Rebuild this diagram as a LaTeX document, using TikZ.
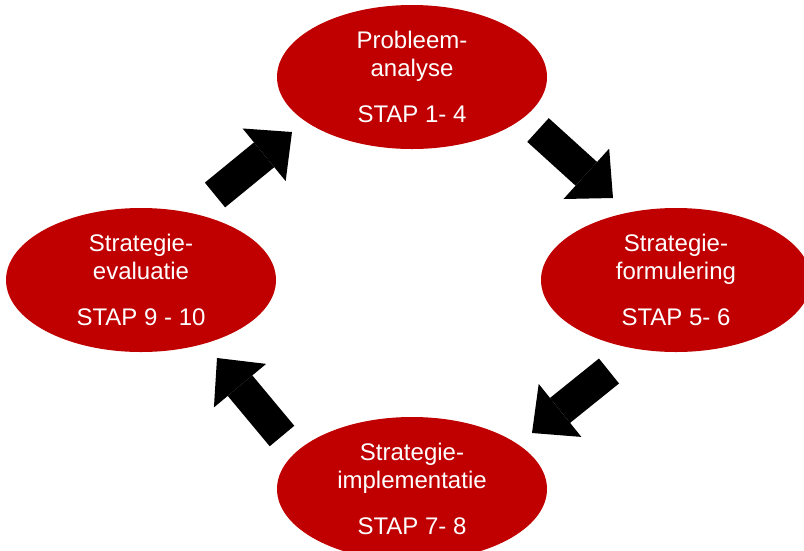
\documentclass[tikz,border=0pt]{standalone}
\usepackage{fontspec}
\setmainfont{Liberation Sans}
\usetikzlibrary{shapes.geometric, arrows.meta}
\definecolor{stapred}{RGB}{192,0,0}

\begin{document}
\begin{tikzpicture}[x=1pt,y=-1pt,
  stap/.style={ellipse,fill=stapred,text=white,minimum width=270pt,minimum height=144pt,inner sep=0pt,align=center,font=\fontsize{24}{28}\selectfont},
  blockarrow/.style={line width=32pt,-{Triangle[width=68pt,length=36pt,line width=0pt]}}]

\useasboundingbox (0,0) rectangle (804,550);

\node[stap] (analyse) at (412,77) {Probleem-\\analyse\\[18pt]STAP 1- 4};
\node[stap] (formulering) at (676,280) {Strategie-\\formulering\\[18pt]STAP 5- 6};
\node[stap] (implementatie) at (412,489) {Strategie-\\implementatie\\[18pt]STAP 7- 8};
\node[stap] (evaluatie) at (141,280) {Strategie-\\evaluatie\\[18pt]STAP 9 - 10};

% ends of the block arrows
\coordinate (ea) at (215,195);
\coordinate (ae) at (292,132);
\coordinate (af) at (538,130);
\coordinate (fa) at (613,198);
\coordinate (fi) at (609,371);
\coordinate (if) at (532,433);
\coordinate (ie) at (282,436);
\coordinate (ei) at (217,358);

% From evaluatie to analyse
\draw[blockarrow] (ea) -- (ae);
% From analyse to formulering
\draw[blockarrow] (af) -- (fa);
% From formulering to implementatie
\draw[blockarrow] (fi) -- (if);
% From implementatie to evaluatie
\draw[blockarrow] (ie) -- (ei);
\end{tikzpicture}
\end{document}
